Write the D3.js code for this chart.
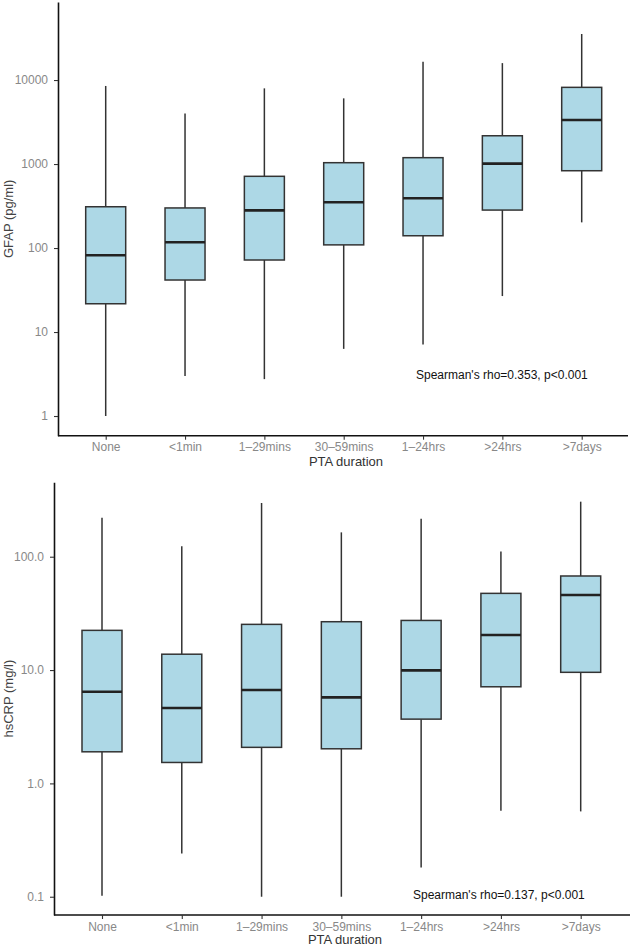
<!DOCTYPE html>
<html>
<head>
<meta charset="utf-8">
<script src="https://cdn.jsdelivr.net/npm/d3@7"></script>
<style>
  html, body { margin: 0; padding: 0; background: #fff; }
  svg { display: block; font-family: "Liberation Sans", Arial, Helvetica, sans-serif; }
</style>
</head>
<body>
<svg id="chart" width="632" height="946"></svg>
<script>
// ---------- data ----------
const categories = ["None", "<1min", "1\u201329mins", "30\u201359mins", "1\u201324hrs", ">24hrs", ">7days"];

// GFAP (pg/ml) box statistics
const gfapMin    = [1.0, 3.0, 2.75, 6.3, 7.1, 26.8, 202];
const gfapQ1     = [21.7, 41.6, 72, 109, 140, 283, 832];
const gfapMedian = [82, 117, 281, 350, 391, 1010, 3340];
const gfapQ3     = [310, 300, 714, 1037, 1190, 2170, 8180];
const gfapMax    = [8500, 4000, 7960, 6050, 16500, 15900, 35300];

// hsCRP (mg/l) box statistics
const crpMin    = [0.102, 0.241, 0.10, 0.10, 0.181, 0.573, 0.566];
const crpQ1     = [1.90, 1.53, 2.08, 2.02, 3.69, 7.12, 9.55];
const crpMedian = [6.43, 4.62, 6.66, 5.74, 9.94, 20.4, 45.9];
const crpQ3     = [22.4, 13.8, 25.3, 26.7, 27.4, 47.5, 67.6];
const crpMax    = [221, 124, 298, 164, 216, 111, 306];

const gfapTicks = [1, 10, 100, 1000, 10000];
const crpTicks  = [0.1, 1, 10, 100];

const xTitle = "PTA duration";
const gfapTitle = "GFAP (pg/ml)";
const crpTitle = "hsCRP (mg/l)";
const gfapNote = "Spearman's rho=0.353, p<0.001";
const crpNote = "Spearman's rho=0.137, p<0.001";

// ---------- drawing ----------
const svg = d3.select("#chart");
const FILL = "#ADD8E6";
const LINE = "#333333";

function panel(cfg) {
  const g = svg.append("g");
  const x = d3.scalePoint().domain(categories).range(cfg.xRange);
  const y = d3.scaleLog().domain(cfg.yDomain).range([cfg.bottom, cfg.top]);

  const rows = categories.map((c, i) => ({
    c, lo: cfg.min[i], q1: cfg.q1[i], med: cfg.med[i], q3: cfg.q3[i], hi: cfg.max[i]
  }));
  const bw = cfg.boxWidth;

  // whiskers
  g.selectAll(".whisk-up").data(rows).join("line")
    .attr("x1", d => x(d.c)).attr("x2", d => x(d.c))
    .attr("y1", d => y(d.q3)).attr("y2", d => y(d.hi))
    .attr("stroke", LINE).attr("stroke-width", 1.5);
  g.selectAll(".whisk-dn").data(rows).join("line")
    .attr("x1", d => x(d.c)).attr("x2", d => x(d.c))
    .attr("y1", d => y(d.q1)).attr("y2", d => y(d.lo))
    .attr("stroke", LINE).attr("stroke-width", 1.5);
  // boxes
  g.selectAll(".box").data(rows).join("rect")
    .attr("x", d => x(d.c) - bw / 2).attr("width", bw)
    .attr("y", d => y(d.q3)).attr("height", d => y(d.q1) - y(d.q3))
    .attr("fill", FILL).attr("stroke", LINE).attr("stroke-width", 1.5);
  // medians
  g.selectAll(".med").data(rows).join("line")
    .attr("x1", d => x(d.c) - bw / 2).attr("x2", d => x(d.c) + bw / 2)
    .attr("y1", d => y(d.med)).attr("y2", d => y(d.med))
    .attr("stroke", "#222").attr("stroke-width", 2.6);

  // y axis
  const ya = g.append("g").attr("transform", `translate(${cfg.axisX},0)`)
    .call(d3.axisLeft(y).tickValues(cfg.ticks).tickFormat(cfg.fmt).tickSize(4).tickPadding(6).tickSizeOuter(0));
  ya.select(".domain").attr("stroke", "#111").attr("stroke-width", 1.6);
  ya.selectAll(".tick line").attr("stroke", "#333").attr("stroke-width", 1.1);
  ya.selectAll(".tick text").attr("fill", "#888").attr("font-size", 12)
    .attr("font-family", "Liberation Sans, Arial, sans-serif");

  // x axis
  const xa = g.append("g").attr("transform", `translate(0,${cfg.bottom})`)
    .call(d3.axisBottom(x).tickSize(4).tickPadding(3).tickSizeOuter(0));
  xa.select(".domain").attr("d", `M${cfg.axisX},0H${cfg.xEnd}`)
    .attr("stroke", "#111").attr("stroke-width", 1.6);
  xa.selectAll(".tick line").attr("stroke", "#333").attr("stroke-width", 1.1);
  xa.selectAll(".tick text").attr("fill", "#888").attr("font-size", 12)
    .attr("font-family", "Liberation Sans, Arial, sans-serif");

  // axis titles
  g.append("text")
    .attr("x", (cfg.axisX + cfg.xEnd) / 2 + 3).attr("y", cfg.bottom + cfg.xTitleDy)
    .attr("text-anchor", "middle").attr("font-size", 13).attr("fill", "#333")
    .text(xTitle);
  g.append("text")
    .attr("transform", `translate(${cfg.yTitleX},${(cfg.top + cfg.bottom) / 2}) rotate(-90)`)
    .attr("text-anchor", "middle").attr("font-size", 13).attr("fill", "#444")
    .text(cfg.yTitle);

  // annotation
  g.append("text")
    .attr("x", cfg.noteX).attr("y", cfg.noteY)
    .attr("font-size", 12).attr("fill", "#111")
    .text(cfg.note);
}

panel({
  min: gfapMin, q1: gfapQ1, med: gfapMedian, q3: gfapQ3, max: gfapMax,
  xRange: [105.7, 581.7], axisX: 58, xEnd: 628,
  top: 2, bottom: 435.7, yDomain: [0.583, 84900],
  ticks: gfapTicks, fmt: d3.format("d"),
  boxWidth: 40, yTitle: gfapTitle, yTitleX: 13, xTitleDy: 30,
  note: gfapNote, noteX: 416, noteY: 379
});

panel({
  min: crpMin, q1: crpQ1, med: crpMedian, q3: crpQ3, max: crpMax,
  xRange: [102, 580.7], axisX: 54, xEnd: 630,
  top: 482.3, bottom: 915, yDomain: [0.069, 453.5],
  ticks: crpTicks, fmt: d3.format(".1f"),
  boxWidth: 40, yTitle: crpTitle, yTitleX: 13, xTitleDy: 29,
  note: crpNote, noteX: 413, noteY: 899
});
</script>
</body>
</html>
